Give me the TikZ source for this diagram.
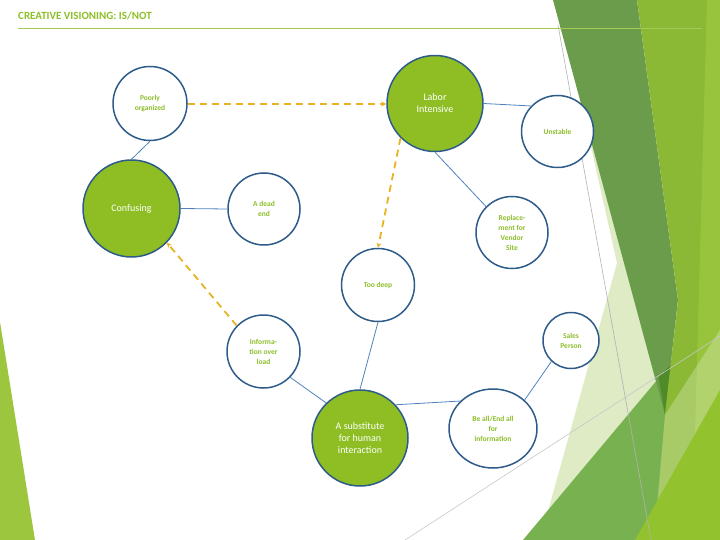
\documentclass[tikz,border=0pt]{standalone}
\usepackage{fontspec}
\setmainfont{Carlito}
\usetikzlibrary{arrows.meta,shapes.geometric}
\definecolor{titlegreen}{HTML}{8DBE2A}
\definecolor{fillgreen}{HTML}{8EBE24}
\definecolor{bordblue}{HTML}{2E5C8A}
\definecolor{linkblue}{HTML}{4F81BD}
\definecolor{gold}{HTML}{E6B422}
\definecolor{paleg}{HTML}{DEEBC5}
\definecolor{medg}{HTML}{78B14F}
\definecolor{darkg}{HTML}{6B9C4B}
\definecolor{overg}{HTML}{4F8B29}
\definecolor{yellg}{HTML}{8CB935}
\definecolor{brightg}{HTML}{97C43C}
\definecolor{bottomg}{HTML}{93C22F}
\definecolor{leftg}{HTML}{9CC63E}
\begin{document}
\begin{tikzpicture}[x=1pt,y=-1pt,
  whitecirc/.style={circle,draw=bordblue,line width=1.5pt,fill=white,inner sep=0pt,
    minimum size=#1,align=center,text=titlegreen,font=\bfseries\fontsize{7.5}{10}\selectfont},
  greencirc/.style={circle,draw=bordblue,line width=1.5pt,fill=fillgreen,inner sep=0pt,
    minimum size=#1,align=center,text=white,font=\fontsize{10}{12}\selectfont},
  link/.style={draw=linkblue,line width=0.8pt},
  goldarrow/.style={draw=gold,line width=1.8pt,dash pattern=on 7pt off 5pt,
    -{Stealth[length=5pt,width=5pt]}}]
\useasboundingbox (0,0) rectangle (720,540);
% decorative background
\fill[paleg] (585,120) -- (650,120) -- (690,540) -- (540,540) -- (617,263) -- cycle;
\fill[medg] (523,540) -- (720,305) -- (720,540) -- cycle;
\fill[darkg] (553,0) -- (637,0) -- (678,300) -- (665,415) -- cycle;
\fill[overg] (658.5,377) -- (670.6,365) -- (665,415) -- cycle;
\fill[yellg] (637,0) -- (720,0) -- (720,540) -- (655,540) -- (665,415) -- (678,300) -- cycle;
\fill[brightg] (707,0) -- (720,0) -- (720,540) -- (692,540) -- cycle;
\fill[white,opacity=0.25] (665,415) -- (720,330) -- (720,400) -- (657,505) -- cycle;
\fill[bottomg] (635,540) -- (720,390) -- (720,540) -- cycle;
\fill[leftg] (0,322) -- (35,540) -- (0,540) -- cycle;
\draw[black!30,line width=0.6pt] (558,25) -- (651,540);
\draw[black!22,line width=0.6pt] (405,540) -- (720,336);
% title
\node[anchor=west,inner sep=0pt,text=titlegreen,font=\bfseries\fontsize{11}{13}\selectfont]
  (title) at (18,15.5) {CREATIVE VISIONING: IS/NOT};
\draw[titlegreen!80!white,line width=0.8pt] (18,28.3) -- (702,28.3);
% nodes
\node[whitecirc=74pt] (poor) at (150,103.5) {Poorly\\organized};
\node[greencirc=97pt] (conf) at (131.5,208.5) {Confusing};
\node[whitecirc=72pt] (dead) at (264,209) {A dead\\end};
\node[greencirc=96pt] (labor) at (435,103.5) {Labor\\Intensive};
\node[whitecirc=72pt] (unst) at (557.5,131.5) {Unstable};
\node[whitecirc=72pt] (repl) at (512,232.5) {Replace-\\ment for\\Vendor\\Site};
\node[whitecirc=73pt] (deep) at (378,285) {Too deep};
\node[whitecirc=73pt] (info) at (263.5,351.5) {Informa-\\tion over\\load};
\node[greencirc=96pt] (subs) at (360,438) {A substitute\\for human\\interaction};
\node[ellipse,draw=bordblue,line width=1.5pt,fill=white,inner sep=0pt,
  minimum width=88pt,minimum height=79pt,align=center,text=titlegreen,
  font=\bfseries\fontsize{7.5}{10}\selectfont] (beall) at (493,428.5) {Be all/End all\\for\\information};
\node[whitecirc=56pt] (sales) at (571,340.5) {Sales\\Person};
% connectors
\draw[link] (poor.south) -- (conf.north);
\draw[link] (conf.east) -- (dead.west);
\draw[link] (labor.east) -- (unst.136);
\draw[link] (labor.south) -- (repl.135);
\draw[link] (deep.south) -- (subs.north);
\draw[link] (info.-44) -- (subs.134);
\draw[link] (subs.43) -- (beall.140);
\draw[link] (beall.42) -- (sales.227);
% dashed arrows
\draw[goldarrow,line width=2pt] ([yshift=-0.5pt]poor.east) -- ([yshift=-0.5pt]labor.west);
\draw[goldarrow] (labor.225) -- (deep.north);
\draw[goldarrow] (info.136) -- (conf.-44);
\end{tikzpicture}
\end{document}
